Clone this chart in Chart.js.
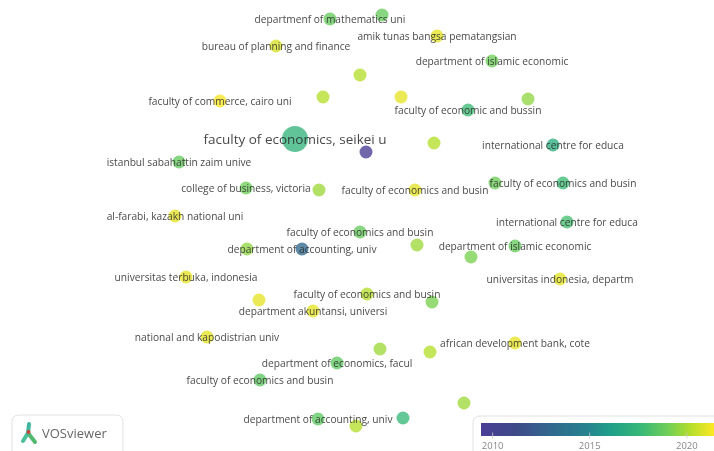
<!DOCTYPE html>
<html>
<head>
<meta charset="utf-8">
<script src="https://cdn.jsdelivr.net/npm/chart.js@4.4.1/dist/chart.umd.min.js"></script>
<style>
  html, body { margin: 0; padding: 0; background: #fff; overflow: hidden; }
  #wrap { width: 714px; height: 451px; }
</style>
</head>
<body>
<div id="wrap"><canvas id="map" width="714" height="451"></canvas></div>
<script>
// overlay map data
const nodeLabels = [
  'departmenf of mathematics uni', '', 'amik tunas bangsa pematangsian', 'bureau of planning and finance',
  'department of islamic economic', '', '', '', '', 'faculty of commerce, cairo uni',
  'faculty of economic and bussin', 'faculty of economics, seikei u', '', 'international centre for educa',
  '', 'istanbul sabahattin zaim unive', 'college of business, victoria', '', 'faculty of economics and busin',
  '', 'faculty of economics and busin', 'al-farabi, kazakh national uni', 'international centre for educa',
  'faculty of economics and busin', '', 'department of islamic economic', '', 'department of accounting, univ',
  '', 'universitas terbuka, indonesia', 'universitas indonesia, departm', '', 'faculty of economics and busin',
  '', 'department akuntansi, universi', 'national and kapodistrian univ', '', '',
  'african development bank, cote', 'department of economics, facul', 'faculty of economics and busin',
  '', 'department of accounting, univ', '', ''
];
const mapX = [
  330, 382, 437, 276, 492, 360, 323, 401, 528, 220,
  468, 295, 434, 553, 366, 179, 246, 319, 415, 495,
  563, 175, 567, 360, 417, 515, 247, 302, 471, 186,
  560, 259, 367, 432, 313, 207, 380, 430, 515, 337,
  260, 464, 318, 403, 356
];
const mapY = [
  19, 15, 36, 46, 61, 75, 97, 97, 99, 101,
  110, 139, 143, 145, 152, 162, 188, 190, 190, 183,
  183, 216, 222, 232, 245, 246, 249, 249, 257, 277,
  279, 300, 294, 302, 311, 337, 349, 352, 343, 363,
  380, 403, 419, 418, 426
];
const avgYear = [
  2018.8, 2018.8, 2021, 2020.8, 2019, 2020.2, 2020.2, 2021, 2019.6, 2021.3,
  2017.8, 2017.4, 2020.2, 2017, 2009.6, 2018.8, 2019, 2019.8, 2021, 2019,
  2017.8, 2021, 2018, 2018.8, 2019.8, 2018.8, 2019.6, 2013, 2019.2, 2021,
  2021, 2021, 2020.2, 2019.2, 2021, 2021, 2019.8, 2020.2, 2021, 2018.6,
  2018.6, 2019.8, 2018.6, 2017.6, 2020.2
];
const occurrences = [
  1, 1, 1, 1, 1, 1, 1, 1, 1, 1,
  1, 4, 1, 1, 1, 1, 1, 1, 1, 1,
  1, 1, 1, 1, 1, 1, 1, 1, 1, 1,
  1, 1, 1, 1, 1, 1, 1, 1, 1, 1,
  1, 1, 1, 1, 1
];
const colorbarTicks = [2010, 2015, 2020];
const yearMin = 2009.4, yearMax = 2021.4;

const viridis = ['#4a3d96', '#3e4a89', '#31688e', '#26828e', '#1f9e89', '#35b779', '#6ece58', '#b5de2b', '#fde725'];
const stops = [0, 0.15, 0.3, 0.45, 0.55, 0.68, 0.8, 0.9, 1];

function hexRgb(h) {
  return [parseInt(h.slice(1, 3), 16), parseInt(h.slice(3, 5), 16), parseInt(h.slice(5, 7), 16)];
}
function yearColor(yr, alpha) {
  let t = (yr - yearMin) / (yearMax - yearMin);
  t = Math.max(0, Math.min(1, t));
  let i = 0;
  while (i < stops.length - 2 && t > stops[i + 1]) i++;
  const f = (t - stops[i]) / (stops[i + 1] - stops[i]);
  const a = hexRgb(viridis[i]), b = hexRgb(viridis[i + 1]);
  const c = a.map((v, k) => Math.round(v + (b[k] - v) * f));
  return 'rgba(' + c[0] + ',' + c[1] + ',' + c[2] + ',' + alpha + ')';
}

const points = mapX.map((x, i) => ({ x: x, y: mapY[i], r: 6.5 * Math.sqrt(occurrences[i]) }));

// node labels on top of the circles
const labelPlugin = {
  id: 'nodeLabels',
  afterDatasetsDraw(chart) {
    const ctx = chart.ctx;
    const meta = chart.getDatasetMeta(0);
    ctx.save();
    ctx.textAlign = 'center';
    ctx.textBaseline = 'middle';
    meta.data.forEach((pt, i) => {
      if (!nodeLabels[i]) return;
      const big = occurrences[i] > 2;
      ctx.font = (big ? '13.5px' : '10.2px') + ' "Open Sans"';
      ctx.fillStyle = 'rgba(40,40,40,0.85)';
      ctx.fillText(nodeLabels[i], pt.x, pt.y + 1);
    });
    ctx.restore();
  }
};

function roundBox(ctx, x, y, w, h, r) {
  ctx.beginPath();
  ctx.moveTo(x + r, y);
  ctx.lineTo(x + w - r, y);
  ctx.quadraticCurveTo(x + w, y, x + w, y + r);
  ctx.lineTo(x + w, y + h - r);
  ctx.quadraticCurveTo(x + w, y + h, x + w - r, y + h);
  ctx.lineTo(x + r, y + h);
  ctx.quadraticCurveTo(x, y + h, x, y + h - r);
  ctx.lineTo(x, y + r);
  ctx.quadraticCurveTo(x, y, x + r, y);
  ctx.closePath();
}

// VOSviewer badge and the year colour bar
const legendPlugin = {
  id: 'overlayLegend',
  afterDraw(chart) {
    const ctx = chart.ctx;
    ctx.save();
    // badge
    roundBox(ctx, 12, 415, 111, 50, 7);
    ctx.fillStyle = 'rgba(255,255,255,0.95)';
    ctx.fill();
    ctx.strokeStyle = '#e2e2e2';
    ctx.lineWidth = 1;
    ctx.stroke();
    ctx.lineCap = 'round';
    ctx.lineWidth = 4;
    ctx.strokeStyle = '#4cc09a';
    ctx.beginPath(); ctx.moveTo(23, 441); ctx.lineTo(28, 433); ctx.stroke();
    ctx.strokeStyle = '#52b86e';
    ctx.beginPath(); ctx.moveTo(28, 433); ctx.lineTo(35, 442); ctx.stroke();
    ctx.strokeStyle = '#3fb7a0';
    ctx.beginPath(); ctx.moveTo(28, 433); ctx.lineTo(29, 424); ctx.stroke();
    ctx.fillStyle = '#c8463a';
    ctx.beginPath(); ctx.arc(28.5, 432, 2, 0, Math.PI * 2); ctx.fill();
    ctx.font = '13px "Open Sans"';
    ctx.fillStyle = '#666';
    ctx.textAlign = 'left';
    ctx.textBaseline = 'middle';
    ctx.fillText('VOSviewer', 42, 434);

    // colour bar
    roundBox(ctx, 473, 416, 260, 50, 7);
    ctx.fillStyle = 'rgba(255,255,255,0.95)';
    ctx.fill();
    ctx.strokeStyle = '#e2e2e2';
    ctx.lineWidth = 1;
    ctx.stroke();
    const x0 = 481, x1 = 714, y0 = 423, h = 13;
    const grad = ctx.createLinearGradient(x0, 0, x1, 0);
    stops.forEach((s, i) => grad.addColorStop(s, viridis[i]));
    ctx.fillStyle = grad;
    ctx.fillRect(x0, y0, x1 - x0, h);
    ctx.font = '9.5px "Open Sans"';
    ctx.textAlign = 'center';
    ctx.textBaseline = 'top';
    colorbarTicks.forEach(yr => {
      const tx = x0 + (yr - yearMin) / (yearMax - yearMin) * (x1 - x0);
      ctx.strokeStyle = 'rgba(200,200,200,0.8)';
      ctx.beginPath(); ctx.moveTo(tx, y0 + h - 3); ctx.lineTo(tx, y0 + h + 2); ctx.stroke();
      ctx.fillStyle = '#888';
      ctx.fillText(String(yr), tx, y0 + h + 6);
    });
    ctx.restore();
  }
};

new Chart(document.getElementById('map'), {
  type: 'bubble',
  data: {
    datasets: [{
      data: points,
      backgroundColor: avgYear.map(y => yearColor(y, 0.78)),
      borderWidth: 0,
      hoverBorderWidth: 0
    }]
  },
  options: {
    responsive: false,
    animation: false,
    layout: { padding: 0, autoPadding: false },
    scales: {
      x: { type: 'linear', min: 0, max: 714, display: false },
      y: { type: 'linear', min: 0, max: 451, reverse: true, display: false }
    },
    plugins: {
      legend: { display: false },
      tooltip: { enabled: false }
    }
  },
  plugins: [labelPlugin, legendPlugin]
});
</script>
</body>
</html>
